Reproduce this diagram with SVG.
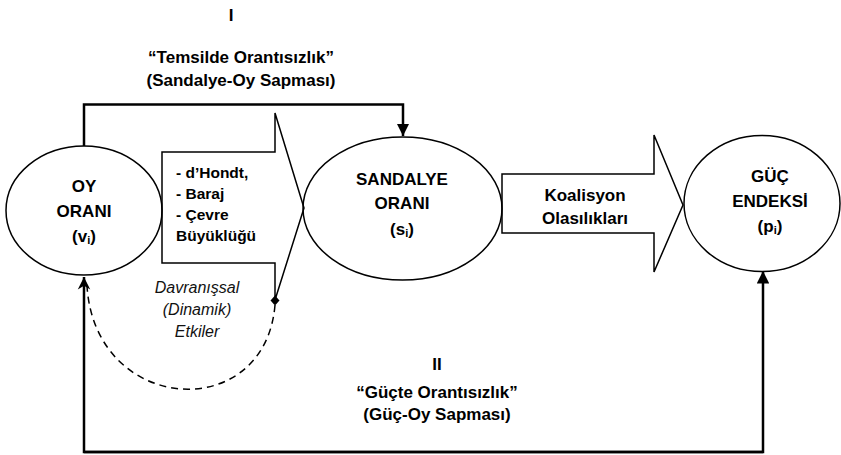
<svg xmlns="http://www.w3.org/2000/svg" width="841" height="455" viewBox="0 0 841 455">
<style>
.shape{fill:#fff;stroke:#000;stroke-width:1.5}
.t{font-family:"Liberation Sans",Arial,sans-serif;font-weight:bold;font-size:17px;fill:#000;text-anchor:middle}
.s{font-size:17px}
.l{text-anchor:start;font-size:15.5px}
.i{font-family:"Liberation Sans",Arial,sans-serif;font-style:italic;font-size:16px;fill:#111;text-anchor:middle}
.con{fill:none;stroke:#000;stroke-width:2.5}
.dash{fill:none;stroke:#000;stroke-width:1.5;stroke-dasharray:7 5}
</style>
<defs>
<marker id="tri" viewBox="0 0 10 10" refX="10" refY="5" markerWidth="5" markerHeight="5" markerUnits="strokeWidth" orient="auto">
<path d="M0,0 L10,5 L0,10 z" fill="#000"/>
</marker>
<marker id="open" viewBox="0 0 12 12" refX="11" refY="6" markerWidth="6" markerHeight="6" markerUnits="strokeWidth" orient="auto">
<path d="M1,1 L11,6 L1,11 L4,6 z" fill="#000"/>
</marker>
</defs>

<g id="connectors">
<path class="con" d="M84,146 V104.5 H403 V136" marker-end="url(#tri)"/>
<path class="con" d="M763,452 H84 V277" marker-end="url(#open)"/>
<path class="con" d="M84,452 H763 V271" marker-end="url(#tri)"/>
<path class="dash" d="M275,305 C265,425 95,415 87,286"/>
</g>

<g id="arrow1">
<path class="shape" d="M162,152 H275 V113 L304,208 L275,300 V263 H162 Z"/>
<path d="M275,295.5 L279.5,300.5 L275,305.5 L270.5,300.5 Z" fill="#000"/>
<text class="t l" x="176" y="178">- d’Hondt,</text>
<text class="t l" x="176" y="199">- Baraj</text>
<text class="t l" x="176" y="220">- Çevre</text>
<text class="t l" x="176" y="241">Büyüklüğü</text>
</g>

<g id="arrow2">
<path class="shape" d="M502,174 H654 V135 L683,205 L654,272 V233 H502 Z"/>
<text class="t" x="585" y="201">Koalisyon</text>
<text class="t" x="585" y="224">Olasılıkları</text>
</g>

<g id="oy">
<ellipse cx="84" cy="210.5" rx="78" ry="64.5" fill="none" stroke="#000" stroke-width="1.5"/>
<text class="t" x="84" y="192">OY</text>
<text class="t" x="84" y="217">ORANI</text>
<text class="t" x="84" y="242">(v<tspan font-size="11" dy="2">i</tspan><tspan dy="-2">)</tspan></text>
</g>

<g id="sandalye">
<ellipse cx="402.5" cy="208.5" rx="99.5" ry="71.5" fill="none" stroke="#000" stroke-width="1.5"/>
<text class="t" x="402" y="185">SANDALYE</text>
<text class="t" x="402" y="209">ORANI</text>
<text class="t" x="402" y="235">(s<tspan font-size="11" dy="2">i</tspan><tspan dy="-2">)</tspan></text>
</g>

<g id="guc">
<ellipse cx="762" cy="203.5" rx="78" ry="68" fill="none" stroke="#000" stroke-width="1.5"/>
<text class="t" x="770" y="182">GÜÇ</text>
<text class="t" x="770" y="207">ENDEKSİ</text>
<text class="t" x="770" y="232">(p<tspan font-size="11" dy="2">i</tspan><tspan dy="-2">)</tspan></text>
</g>

<g id="labels">
<text class="t s" x="231" y="21">I</text>
<text class="t s" x="241" y="63">“Temsilde Orantısızlık”</text>
<text class="t s" x="241" y="86">(Sandalye-Oy Sapması)</text>
<text class="i" x="197" y="293">Davranışsal</text>
<text class="i" x="197" y="315">(Dinamik)</text>
<text class="i" x="197" y="337">Etkiler</text>
<text class="t s" x="437" y="370">II</text>
<text class="t s" x="437" y="398">“Güçte Orantısızlık”</text>
<text class="t s" x="437" y="420">(Güç-Oy Sapması)</text>
</g>
</svg>
